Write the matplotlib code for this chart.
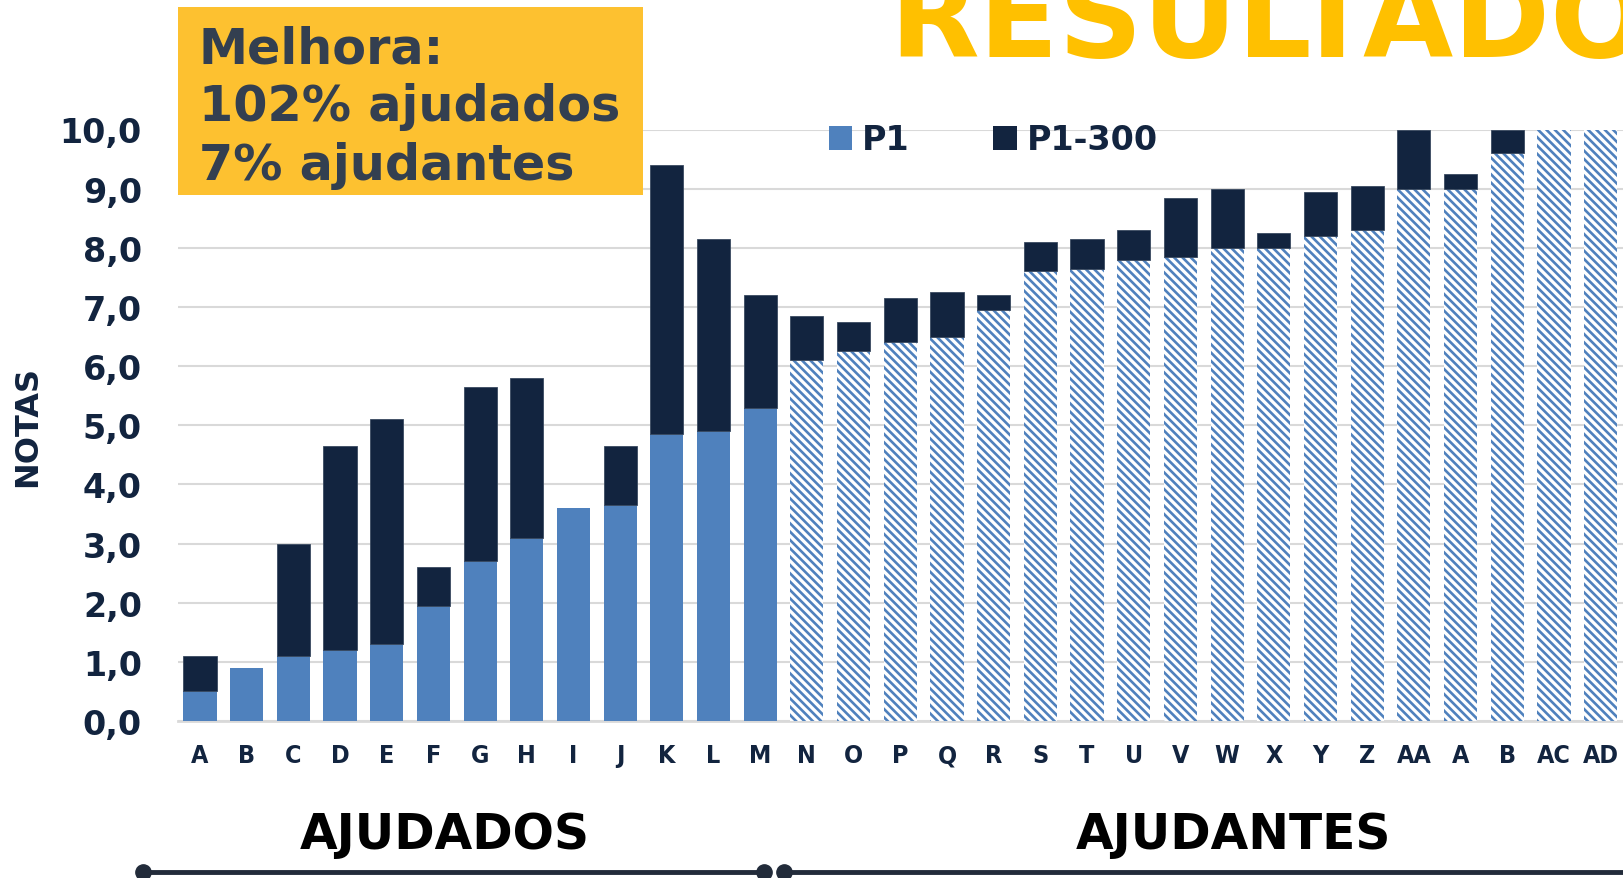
import numpy as np
import matplotlib
matplotlib.use("Agg")
import matplotlib.pyplot as plt
from matplotlib.patches import Patch, Rectangle
from matplotlib.lines import Line2D

# dados
alunos = ["A", "B", "C", "D", "E", "F", "G", "H", "I", "J", "K", "L", "M",
          "N", "O", "P", "Q", "R", "S", "T", "U", "V", "W", "X", "Y", "Z",
          "AA", "A", "B", "AC", "AD"]
p1 = [0.5, 0.9, 1.1, 1.2, 1.3, 1.95, 2.7, 3.1, 3.6, 3.65, 4.85, 4.9, 5.3,
      6.1, 6.25, 6.4, 6.5, 6.95, 7.6, 7.65, 7.8, 7.85, 8.0, 8.0, 8.2, 8.3,
      9.0, 9.0, 9.6, 10.0, 10.0]
p1_300 = [0.6, 0.0, 1.9, 3.45, 3.8, 0.65, 2.95, 2.7, 0.0, 1.0, 4.55, 3.25, 1.9,
          0.75, 0.5, 0.75, 0.75, 0.25, 0.5, 0.5, 0.5, 1.0, 1.0, 0.25, 0.75, 0.75,
          1.0, 0.25, 0.4, 0.0, 0.0]
n_ajudados = 13

azul = "#4F81BD"
marinho = "#12243F"
amarelo = "#FFC000"

plt.rcParams["hatch.linewidth"] = 1.9
plt.rcParams["font.family"] = "DejaVu Sans"

fig = plt.figure(figsize=(16.24, 8.79), dpi=100)
ax = fig.add_axes([178 / 1624, 1 - 722 / 879, 1 - 178 / 1624, (722 - 130.5) / 879])

x = np.arange(len(alunos))
largura = 0.71
for i in x:
    if i < n_ajudados:
        ax.bar(i, p1[i], largura, color=azul, zorder=3)
    else:
        ax.bar(i, p1[i], largura, facecolor="white", edgecolor=azul,
               hatch="\\\\\\\\", linewidth=0, zorder=3)
    if p1_300[i] > 0:
        ax.bar(i, p1_300[i], largura, bottom=p1[i], color=marinho,
               edgecolor="#3A4A60", linewidth=0.6, zorder=3)

ax.set_xlim(-0.47, 30.5)
ax.set_ylim(0, 10)
ax.set_yticks(np.arange(0, 11, 1))
ax.set_yticklabels([f"{v:.1f}".replace(".", ",") for v in range(11)],
                   fontsize=24, fontweight="bold", color=marinho)
ax.set_xticks(x)
ax.set_xticklabels(alunos, fontsize=18, fontweight="bold", color=marinho,
                   fontstretch="condensed")
ax.tick_params(axis="both", length=0)
ax.tick_params(axis="y", pad=26)
ax.tick_params(axis="x", pad=16)
ax.grid(axis="y", color="#D9D9D9", linewidth=1.5, zorder=0)
for s in ["top", "right", "left"]:
    ax.spines[s].set_visible(False)
ax.spines["bottom"].set_color("#D9D9D9")
ax.spines["bottom"].set_linewidth(2)
ax.set_ylabel("NOTAS", fontsize=23, fontweight="bold", color=marinho)
ax.yaxis.set_label_coords(-0.093, 0.5)

# legenda
handles = [Patch(facecolor=azul), Patch(facecolor=marinho)]
fig.legend(handles, ["P1", "P1-300"], loc="center left",
           bbox_to_anchor=(829 / 1624, 1 - 141 / 879), ncol=2, frameon=False,
           borderpad=0, borderaxespad=0, handlelength=0.7, handleheight=0.7,
           handletextpad=0.3, columnspacing=2.5,
           prop={"size": 24, "weight": "bold"}, labelcolor=marinho)

# caixa amarela
fig.patches.append(Rectangle((178 / 1624, 1 - 196 / 879), (643 - 178) / 1624,
                             (196 - 8) / 879, transform=fig.transFigure,
                             facecolor="#FDC130", edgecolor="none", zorder=5))
fig.text(199 / 1624, 1 - 25 / 879, "Melhora:\n102% ajudados\n7% ajudantes",
         ha="left", va="top", fontsize=35.5, fontweight="bold", color="#333F50",
         linespacing=1.27, zorder=6)

# título cortado
fig.text(889 / 1624, 1 - 57 / 879, "RESULTADOS", ha="left", va="baseline",
         fontsize=84, fontweight="bold", color=amarelo)

# grupos em baixo
fig.text(445 / 1624, 1 - 835 / 879, "AJUDADOS", ha="center", va="center",
         fontsize=35, fontweight="bold", color="black")
fig.text(1233 / 1624, 1 - 835 / 879, "AJUDANTES", ha="center", va="center",
         fontsize=35, fontweight="bold", color="black")
y_linha = 1 - 873 / 879
for x0, x1 in [(143, 764), (784, 1700)]:
    fig.add_artist(Line2D([x0 / 1624, x1 / 1624], [y_linha, y_linha],
                          transform=fig.transFigure, color="#222B3A",
                          linewidth=3.5, marker="o", markersize=11))

fig.savefig("out.png", dpi=100)
